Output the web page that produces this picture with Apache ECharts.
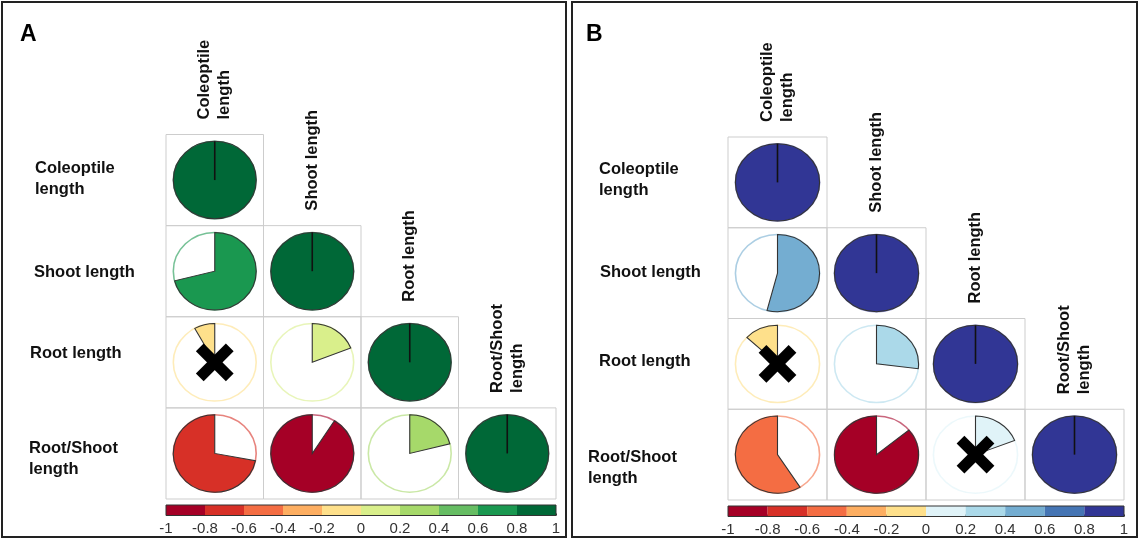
<!DOCTYPE html>
<html>
<head>
<meta charset="utf-8">
<script src="https://cdn.jsdelivr.net/npm/echarts@6/dist/echarts.min.js"></script>
<style>
  html, body { margin: 0; padding: 0; background: #fff; }
  #chart { width: 1141px; height: 541px; }
</style>
</head>
<body>
<div id="chart"></div>
<script>
// ---- data ----
const variables = ["Coleoptile length", "Shoot length", "Root length", "Root/Shoot length"];
const rowLabels = ["Coleoptile\nlength", "Shoot length", "Root length", "Root/Shoot\nlength"];
const colLabels = ["Coleoptile\nlength", "Shoot length", "Root length", "Root/Shoot\nlength"];

// lower-triangle correlation values (row i, column j<=i)
const corrA = [
  [1],
  [0.71, 1],
  [-0.08, 0.19, 1],
  [-0.72, -0.91, 0.21, 1]
];
const corrB = [
  [1],
  [0.54, 1],
  [-0.13, 0.27, 1],
  [-0.59, -0.86, 0.19, 1]
];
// 1 = not significant (crossed out)
const crossA = [
  [0],
  [0, 0],
  [1, 0, 0],
  [0, 0, 0, 0]
];
const crossB = [
  [0],
  [0, 0],
  [1, 0, 0],
  [0, 0, 1, 0]
];

const colorsA = ['#a50026', '#d73027', '#f46d43', '#fdae61', '#fee08b', '#d9ef8b', '#a6d96a', '#66bd63', '#1a9850', '#006837'];
const colorsB = ['#a50026', '#d73027', '#f46d43', '#fdae61', '#fee08b', '#e0f3f8', '#abd9e9', '#74add1', '#4575b4', '#313695'];
const binEdges = [-1, -0.8, -0.6, -0.4, -0.2, 0, 0.2, 0.4, 0.6, 0.8, 1];

// ---- layout (row label placement relative to grid) ----
const layoutA = { labelGap: [131, 132, 136, 137], labelDy: [-1, 1, -9, 6] };
const layoutB = { labelGap: [129, 128, 129, 140], labelDy: [-2, -1, -2, 13] };

// ---- helpers ----
function cells(corr, cross) {
  const out = [];
  for (let i = 0; i < corr.length; i++) {
    for (let j = 0; j < corr[i].length; j++) {
      out.push([j, i, corr[i][j], cross[i][j]]);
    }
  }
  return out;
}
function binIndex(v) {
  return Math.max(0, Math.min(9, Math.floor((v + 1) / 0.2 + 1e-9)));
}
function rgba(hex, a) {
  const n = parseInt(hex.slice(1), 16);
  return 'rgba(' + ((n >> 16) & 255) + ',' + ((n >> 8) & 255) + ',' + (n & 255) + ',' + a + ')';
}
const FONT = '"Liberation Sans", Arial, sans-serif';

function makeRender(palette, layout) {
  return function (params, api) {
    const j = api.value(0), i = api.value(1), v = api.value(2), cross = api.value(3);
    const c = api.coord([j, i]);
    const s = api.size([1, 1]);
    const w = s[0], h = s[1];
    const rx = 0.425 * w;
    const ky = (0.425 * h) / rx;
    const col = palette[binIndex(v)];
    const diag = i === j;
    const top = -Math.PI / 2;
    const span = 2 * Math.PI * Math.abs(v);
    let sa, ea;
    if (v >= 0) { sa = top; ea = top + span; } else { sa = top - span; ea = top; }
    const pieChildren = [
      { type: 'circle', shape: { cx: 0, cy: 0, r: rx },
        style: { fill: '#fff', stroke: rgba(col, 0.6), lineWidth: 1.6 } },
      { type: 'sector', shape: { cx: 0, cy: 0, r: rx, r0: 0, startAngle: sa, endAngle: ea, clockwise: true },
        style: { fill: col, stroke: '#333', lineWidth: 1.1 } }
    ];
    if (diag) {
      pieChildren.push({ type: 'line', shape: { x1: 0, y1: 0, x2: 0, y2: -rx },
        style: { stroke: '#111', lineWidth: 1.6 } });
    }
    const children = [
      { type: 'rect', shape: { x: c[0] - w / 2, y: c[1] - h / 2, width: w, height: h },
        style: { fill: 'none', stroke: '#cdcdcd', lineWidth: 1 } },
      { type: 'group', x: c[0], y: c[1], scaleY: ky, children: pieChildren }
    ];
    if (cross) {
      const d = 15;
      children.push({ type: 'line', shape: { x1: c[0] - d, y1: c[1] - d, x2: c[0] + d, y2: c[1] + d },
        style: { stroke: '#000', lineWidth: 11, lineCap: 'butt' } });
      children.push({ type: 'line', shape: { x1: c[0] + d, y1: c[1] - d, x2: c[0] - d, y2: c[1] + d },
        style: { stroke: '#000', lineWidth: 11, lineCap: 'butt' } });
    }
    if (diag) {
      children.push({ type: 'text', x: c[0], y: c[1] - h / 2 - 15, rotation: Math.PI / 2,
        style: { text: colLabels[j], fill: '#111', font: 'bold 16.5px ' + FONT,
          align: 'left', verticalAlign: 'middle', lineHeight: 20 } });
    }
    if (j === 0) {
      children.push({ type: 'text', x: c[0] - w / 2 - layout.labelGap[i], y: c[1] + layout.labelDy[i],
        style: { text: rowLabels[i], fill: '#111', font: 'bold 16.5px ' + FONT,
          align: 'left', verticalAlign: 'middle', lineHeight: 21 } });
    }
    return { type: 'group', children: children };
  };
}

function makeBarRender(palette) {
  return function (params, api) {
    const lo = api.value(0), hi = api.value(1);
    const p1 = api.coord([lo, 1]);
    const p2 = api.coord([hi, 0]);
    const idx = params.dataIndex;
    return { type: 'rect', shape: { x: p1[0], y: p1[1], width: p2[0] - p1[0], height: p2[1] - p1[1] },
      style: { fill: palette[idx] } };
  };
}
function outlineRender(params, api) {
  const p1 = api.coord([-1, 1]);
  const p2 = api.coord([1, 0]);
  return { type: 'rect', shape: { x: p1[0], y: p1[1], width: p2[0] - p1[0], height: p2[1] - p1[1] },
    style: { fill: 'none', stroke: '#333', lineWidth: 1 } };
}

const binData = [];
for (let k = 0; k < 10; k++) binData.push([binEdges[k], binEdges[k + 1]]);

function matrixX(gi) {
  return { type: 'category', gridIndex: gi, data: variables, show: false };
}
function matrixY(gi) {
  return { type: 'category', gridIndex: gi, data: variables, inverse: true, show: false };
}
function barX(gi) {
  return { type: 'value', gridIndex: gi, min: -1, max: 1, interval: 0.2,
    axisLine: { show: false }, splitLine: { show: false },
    axisTick: { show: true, inside: true, length: 2, lineStyle: { color: '#333' } },
    axisLabel: { margin: 6, fontSize: 15, color: '#333', fontFamily: FONT,
      formatter: function (v) { return String(+v.toFixed(1)); } } };
}
function barY(gi) {
  return { type: 'value', gridIndex: gi, min: 0, max: 1, show: false };
}

const chart = echarts.init(document.getElementById('chart'), null, { renderer: 'canvas' });
chart.setOption({
  backgroundColor: '#fff',
  animation: false,
  grid: [
    { left: 166, top: 134.5, width: 390, height: 364.5 },
    { left: 728, top: 137, width: 396, height: 363 },
    { left: 166, top: 505, width: 390, height: 10.5 },
    { left: 728, top: 506, width: 396, height: 10.5 }
  ],
  xAxis: [matrixX(0), matrixX(1), barX(2), barX(3)],
  yAxis: [matrixY(0), matrixY(1), barY(2), barY(3)],
  series: [
    { type: 'custom', xAxisIndex: 0, yAxisIndex: 0, clip: false, data: cells(corrA, crossA),
      renderItem: makeRender(colorsA, layoutA) },
    { type: 'custom', xAxisIndex: 1, yAxisIndex: 1, clip: false, data: cells(corrB, crossB),
      renderItem: makeRender(colorsB, layoutB) },
    { type: 'custom', xAxisIndex: 2, yAxisIndex: 2, data: binData, renderItem: makeBarRender(colorsA) },
    { type: 'custom', xAxisIndex: 3, yAxisIndex: 3, data: binData, renderItem: makeBarRender(colorsB) },
    { type: 'custom', xAxisIndex: 2, yAxisIndex: 2, data: [[-1, 1]], renderItem: outlineRender, z: 3 },
    { type: 'custom', xAxisIndex: 3, yAxisIndex: 3, data: [[-1, 1]], renderItem: outlineRender, z: 3 }
  ],
  graphic: [
    { type: 'rect', shape: { x: 2, y: 2, width: 564, height: 535 },
      style: { fill: 'none', stroke: '#222', lineWidth: 2 } },
    { type: 'rect', shape: { x: 572, y: 2, width: 565, height: 535 },
      style: { fill: 'none', stroke: '#222', lineWidth: 2 } },
    { type: 'text', x: 20, y: 23, style: { text: 'A', font: 'bold 23px ' + FONT, fill: '#000' } },
    { type: 'text', x: 586, y: 23, style: { text: 'B', font: 'bold 23px ' + FONT, fill: '#000' } }
  ]
});
</script>
</body>
</html>
